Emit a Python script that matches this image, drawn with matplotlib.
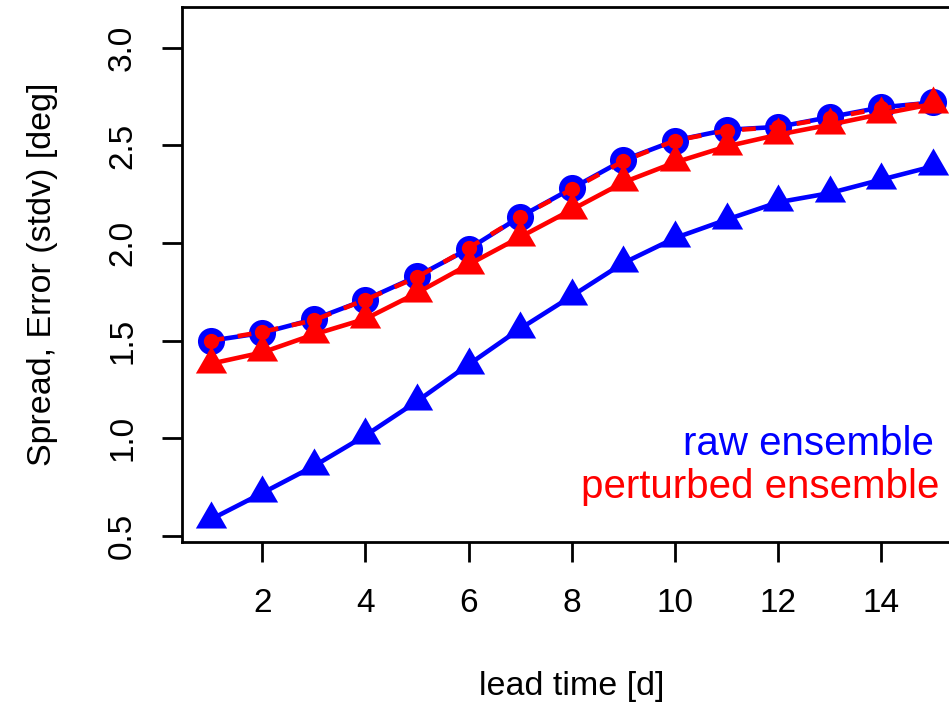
import matplotlib
matplotlib.use("Agg")
import matplotlib.pyplot as plt

plt.rcParams['font.family'] = ['Liberation Sans', 'DejaVu Sans']
plt.rcParams['figure.dpi'] = 100

# lead times (days)
lead = [1, 2, 3, 4, 5, 6, 7, 8, 9, 10, 11, 12, 13, 14, 15]

# error (stdv) of the ensemble mean
raw_error = [1.50, 1.54, 1.61, 1.71, 1.83, 1.97, 2.135, 2.28, 2.425, 2.525, 2.58, 2.595, 2.645, 2.695, 2.72]
pert_error = [1.50, 1.545, 1.605, 1.71, 1.825, 1.975, 2.135, 2.275, 2.42, 2.525, 2.575, 2.595, 2.64, 2.69, 2.72]

# ensemble spread
raw_spread = [0.585, 0.72, 0.858, 1.015, 1.19, 1.378, 1.562, 1.729, 1.898, 2.026, 2.12, 2.209, 2.256, 2.325, 2.393]
pert_spread = [1.382, 1.44, 1.532, 1.612, 1.745, 1.89, 2.031, 2.171, 2.311, 2.413, 2.495, 2.555, 2.606, 2.661, 2.712]

xticks = [2, 4, 6, 8, 10, 12, 14]
yticks = [0.5, 1.0, 1.5, 2.0, 2.5, 3.0]

blue = '#0000FF'
red = '#FF0000'
# R style filled triangle (pch 17), centred on its centroid
tri = [(0, 1), (-0.866, -0.5), (0.866, -0.5), (0, 1)]

fig = plt.figure(figsize=(9.49, 7.05))
ax = fig.add_axes([0.1915, 0.2316, 0.8221, 0.758])

ax.plot(lead, raw_spread, color=blue, lw=3.3, marker=tri, ms=26, mew=0, zorder=2)
ax.plot(lead, raw_error, color=blue, lw=3.3, marker='o', ms=19.5, mew=0, zorder=3)
ax.plot(lead, pert_error, color=red, lw=3.3, dashes=(3, 3), marker='o', ms=11, mew=0, zorder=4)
ax.plot(lead, pert_spread, color=red, lw=3.3, marker=tri, ms=26, mew=0, zorder=5)

ax.set_xlim(0.44, 15.56)
ax.set_ylim(0.471, 3.207)
ax.set_xticks(xticks)
ax.set_xticklabels([str(t) for t in xticks])
ax.set_yticks(yticks)
ax.set_yticklabels([f"{t:.1f}" for t in yticks])

for s in ax.spines.values():
    s.set_linewidth(2)
ax.tick_params(direction='out', length=14.4, width=2, labelsize=24)
ax.tick_params(axis='x', pad=19)
ax.tick_params(axis='y', pad=17, labelrotation=90)
for lbl in ax.get_yticklabels():
    lbl.set_va('center')

ax.set_xlabel('lead time [d]', fontsize=24.5, va='baseline')
ax.xaxis.set_label_coords(0.5, -0.287)
ax.set_ylabel('Spread, Error (stdv) [deg]', fontsize=24.5)
ax.yaxis.set_label_coords(-0.159, 0.5)

ax.text(15.02, 0.916, 'raw ensemble', color=blue, fontsize=29, ha='right', va='baseline')
ax.text(15.12, 0.696, 'perturbed ensemble', color=red, fontsize=29, ha='right', va='baseline')

fig.savefig('out.png', dpi=100)
